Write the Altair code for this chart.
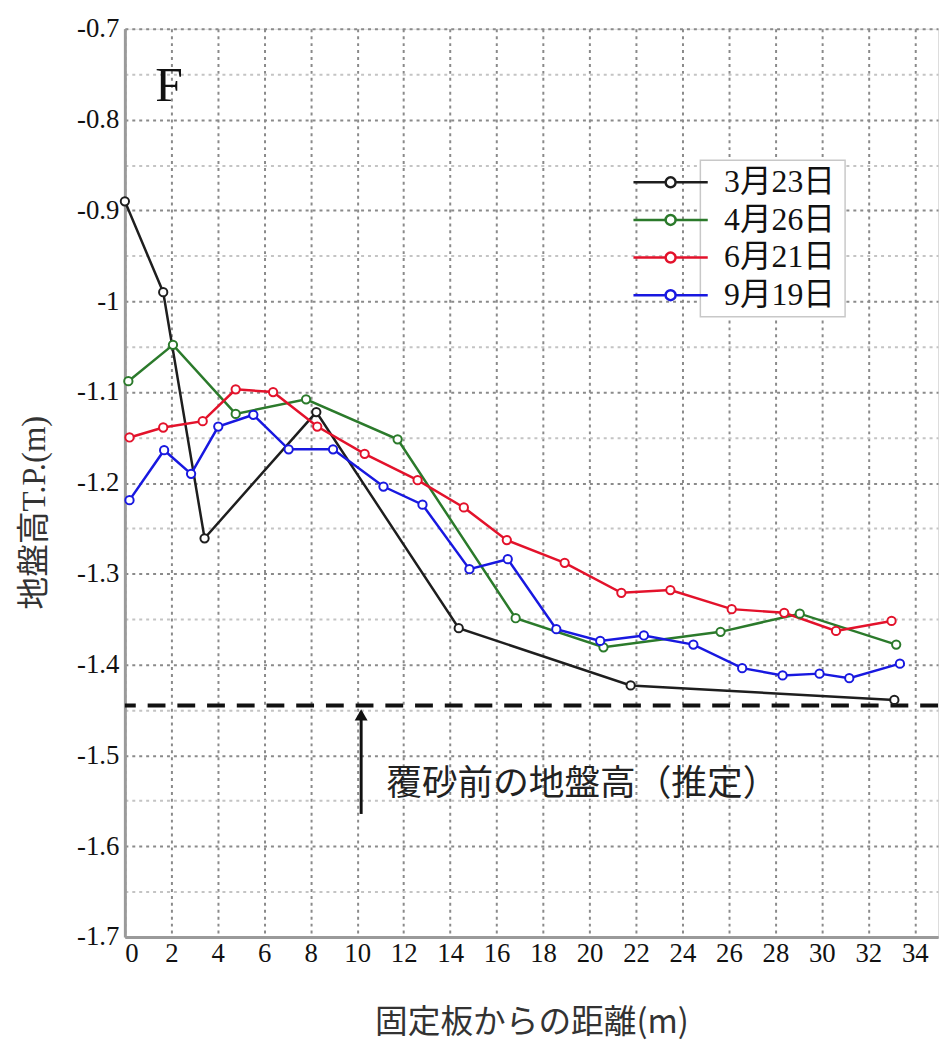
import altair as alt
import pandas as pd

# ---- data ----
series_names = ["3月23日", "4月26日", "6月21日", "9月19日"]
series_colors = ["#1e1e1e", "#2b7a2b", "#e3122b", "#1818e0"]

x_0323 = [0.0, 1.65, 3.43, 8.24, 14.37, 21.77, 33.12]
y_0323 = [-0.890, -0.990, -1.261, -1.122, -1.360, -1.423, -1.439]

x_0426 = [0.15, 2.07, 4.77, 7.8, 11.74, 16.82, 20.6, 25.64, 29.05, 33.2]
y_0426 = [-1.088, -1.048, -1.124, -1.108, -1.152, -1.349, -1.381, -1.364, -1.344, -1.378]

x_0621 = [0.2, 1.65, 3.35, 4.77, 6.38, 8.28, 10.32, 12.6, 14.59, 16.44, 18.93,
          21.37, 23.48, 26.12, 28.38, 30.61, 33.0]
y_0621 = [-1.150, -1.139, -1.132, -1.097, -1.100, -1.138, -1.168, -1.197, -1.227,
          -1.263, -1.288, -1.321, -1.318, -1.339, -1.343, -1.363, -1.352]

x_0919 = [0.2, 1.69, 2.85, 4.02, 5.53, 7.05, 8.96, 11.13, 12.81, 14.83, 16.48,
          18.57, 20.46, 22.34, 24.47, 26.57, 28.31, 29.9, 31.18, 33.36]
y_0919 = [-1.219, -1.164, -1.190, -1.138, -1.125, -1.163, -1.163, -1.204, -1.224,
          -1.295, -1.284, -1.361, -1.374, -1.368, -1.378, -1.404, -1.412, -1.410,
          -1.415, -1.399]

# annotations
base_level = -1.445                     # dashed line: ground height before sand cover
note_text = "覆砂前の地盤高（推定）"
note_pos = [11.25, -1.532]
arrow_x = 10.17
arrow_y = [-1.5645, -1.452]
panel_label = "F"
panel_pos = [1.9, -0.763]
legend_box = [24.77, 31.0, -0.8448, -1.0171]

x_ticks = list(range(0, 36))
y_ticks = [round(-1.7 + 0.05 * i, 2) for i in range(21)]

# ---- build table ----
rows = []
for name, xs, ys in zip(series_names,
                        [x_0323, x_0426, x_0621, x_0919],
                        [y_0323, y_0426, y_0621, y_0919]):
    for i, (xv, yv) in enumerate(zip(xs, ys)):
        rows.append({"series": name, "x": xv, "y": yv, "i": i})
df = pd.DataFrame(rows)

SERIF = "'Liberation Serif', 'Noto Sans CJK JP'"
CJK = "'Noto Sans CJK JP'"

xscale = alt.Scale(domain=[0, 35], nice=False, zero=False)
yscale = alt.Scale(domain=[-1.7, -0.7], nice=False, zero=False)

xaxis = alt.Axis(
    values=x_ticks,
    labelExpr="datum.value % 2 == 0 ? toString(datum.value) : ''",
    title="固定板からの距離(m)",
    titleFont=CJK, titleFontSize=33, titleFontWeight="normal", titleColor="#333",
    titlePadding=40,
    labelFont=SERIF, labelFontSize=27, labelColor="#111", labelPadding=4,
    ticks=False,
    grid=True,
    gridColor={"condition": {"test": "datum.value % 2 == 0", "value": "#8a8a8a"}, "value": "#c4c4c4"},
    gridDash=[3, 4], gridWidth=2,
    domainColor="#9a9a9a", domainWidth=3,
    labelOverlap=False,
)
yaxis = alt.Axis(
    values=y_ticks,
    labelExpr="abs(round(datum.value*100)) % 10 == 0 ? toString(round(datum.value*10)/10) : ''",
    title="地盤高T.P.(m)",
    titleFont=SERIF, titleFontSize=33, titleFontWeight="normal", titleColor="#333",
    titleX=-91, titleY=488, titleAngle=-90, titleAlign="center", titleBaseline="middle",
    labelFont=SERIF, labelFontSize=27, labelColor="#111", labelPadding=6,
    ticks=False,
    grid=True,
    gridColor={"condition": {"test": "abs(round(datum.value*100)) % 10 == 0", "value": "#8a8a8a"}, "value": "#c4c4c4"},
    gridDash=[3, 4], gridWidth=2,
    domainColor="#9a9a9a", domainWidth=3,
    labelOverlap=False,
)

legend_symbol = "M-5,0H-0.67M0.67,0H5M0.67,0A0.67,0.67,0,1,1,-0.67,0A0.67,0.67,0,1,1,0.67,0Z"

color = alt.Color(
    "series:N",
    scale=alt.Scale(domain=series_names, range=series_colors),
    sort=series_names,
    legend=alt.Legend(
        title=None, orient="none", legendX=535, legendY=139,
        symbolType=legend_symbol, symbolSize=225, symbolStrokeWidth=2.5,
        symbolFillColor="white",
        labelFont=SERIF, labelFontSize=32, labelColor="#111", labelOffset=38,
        rowPadding=6, padding=0,
    ),
)

base = alt.Chart(df)

box_df = pd.DataFrame({"x": [legend_box[0]], "x2": [legend_box[1]],
                       "y": [legend_box[2]], "y2": [legend_box[3]]})
box = alt.Chart(box_df).mark_rect(fill="white", stroke="#c8c8c8", strokeWidth=1.5).encode(
    x=alt.X("x:Q", scale=xscale, axis=xaxis), x2="x2:Q",
    y=alt.Y("y:Q", scale=yscale, axis=yaxis), y2="y2:Q",
)

base_df = pd.DataFrame({"y": [base_level]})
baseline = alt.Chart(base_df).mark_rule(color="#111", strokeWidth=4, strokeDash=[18, 12]).encode(
    y=alt.Y("y:Q", scale=yscale)
)

arrow_df = pd.DataFrame({"x": [arrow_x], "y": [arrow_y[0]], "y2": [arrow_y[1]]})
arrow_line = alt.Chart(arrow_df).mark_rule(color="#111", strokeWidth=3).encode(
    x=alt.X("x:Q", scale=xscale), y=alt.Y("y:Q", scale=yscale), y2="y2:Q"
)
head_df = pd.DataFrame({"x": [arrow_x], "y": [arrow_y[1] - 0.0035]})
arrow_head = alt.Chart(head_df).mark_point(shape="triangle-up", filled=True, color="#111",
                                           size=170, opacity=1).encode(
    x=alt.X("x:Q", scale=xscale), y=alt.Y("y:Q", scale=yscale)
)

note_df = pd.DataFrame({"x": [note_pos[0]], "y": [note_pos[1]], "t": [note_text]})
note = alt.Chart(note_df).mark_text(align="left", baseline="middle", font=CJK,
                                    fontSize=36, color="#222").encode(
    x=alt.X("x:Q", scale=xscale), y=alt.Y("y:Q", scale=yscale), text="t:N"
)

panel_df = pd.DataFrame({"x": [panel_pos[0]], "y": [panel_pos[1]], "t": [panel_label]})
panel = alt.Chart(panel_df).mark_text(align="center", baseline="middle", font="Liberation Serif",
                                      fontSize=50, color="#111").encode(
    x=alt.X("x:Q", scale=xscale), y=alt.Y("y:Q", scale=yscale), text="t:N"
)

lines = base.mark_line(strokeWidth=2.5).encode(
    x=alt.X("x:Q", scale=xscale),
    y=alt.Y("y:Q", scale=yscale),
    color=color,
    order="i:Q",
)
points = base.mark_point(filled=False, fill="white", fillOpacity=1, opacity=1,
                         size=70, strokeWidth=2).encode(
    x=alt.X("x:Q", scale=xscale),
    y=alt.Y("y:Q", scale=yscale),
    color=color,
)

chart = alt.layer(box, baseline, arrow_line, arrow_head, note, panel, lines, points).properties(
    width=821, height=917,
    autosize=alt.AutoSizeParams(type="none"),
    padding={"left": 118, "top": 16, "right": 2, "bottom": 100},
).configure_view(stroke="#9a9a9a", strokeWidth=3).configure(background="white")

chart.save("out.html", embed_options={"renderer": "svg", "actions": False})
